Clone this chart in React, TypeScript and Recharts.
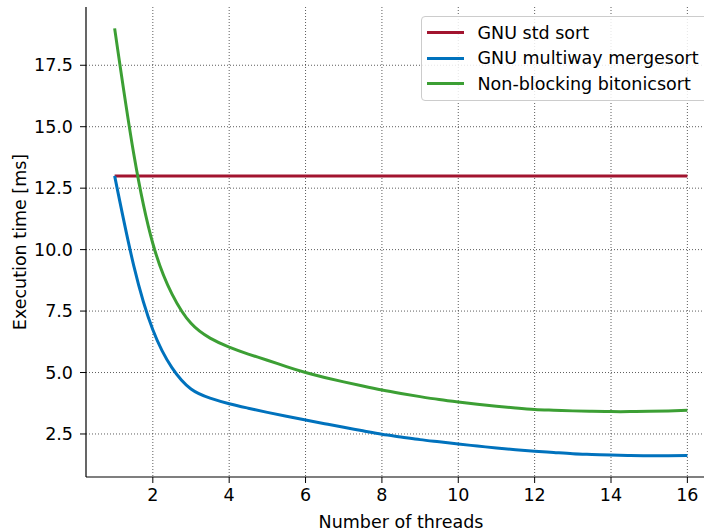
import { LineChart, Line, XAxis, YAxis, CartesianGrid, Label } from "recharts";

// thread counts, read every half step along the curves
const threads = [1, 1.5, 2, 2.5, 3, 3.5, 4, 4.5, 5, 5.5, 6, 6.5, 7, 7.5, 8, 8.5, 9, 9.5, 10, 10.5, 11, 11.5, 12, 12.5, 13, 13.5, 14, 14.5, 15, 15.5, 16];

const stdSort = [13, 13, 13, 13, 13, 13, 13, 13, 13, 13, 13, 13, 13, 13, 13, 13, 13, 13, 13, 13, 13, 13, 13, 13, 13, 13, 13, 13, 13, 13, 13];
const multiwayMergesort = [13.0, 9.35, 6.74, 5.2, 4.33, 3.96, 3.73, 3.55, 3.38, 3.22, 3.07, 2.92, 2.77, 2.63, 2.49, 2.38, 2.27, 2.18, 2.09, 2.01, 1.93, 1.86, 1.8, 1.75, 1.7, 1.67, 1.64, 1.62, 1.61, 1.61, 1.62];
const bitonicSort = [19.0, 13.9, 10.25, 8.2, 7.0, 6.4, 6.03, 5.75, 5.5, 5.24, 5.0, 4.8, 4.62, 4.45, 4.29, 4.15, 4.02, 3.9, 3.8, 3.71, 3.63, 3.56, 3.5, 3.47, 3.44, 3.42, 3.41, 3.41, 3.42, 3.44, 3.47];

const xTicks = [2, 4, 6, 8, 10, 12, 14, 16];
const yTicks = [2.5, 5, 7.5, 10, 12.5, 15, 17.5];

const colors = {
  std: "#A2142F",
  multiway: "#0072BD",
  bitonic: "#3C9F34",
};

const legendItems = [
  { label: "GNU std sort", color: colors.std },
  { label: "GNU multiway mergesort", color: colors.multiway },
  { label: "Non-blocking bitonicsort", color: colors.bitonic },
];

const data = threads.map((t, i) => ({
  threads: t,
  std: stdSort[i],
  multiway: multiwayMergesort[i],
  bitonic: bitonicSort[i],
}));

const font = "'DejaVu Sans', sans-serif";
const tickStyle = { fill: "#000", fontSize: 17.5, fontFamily: font };

export default function App() {
  return (
    <div
      style={{
        position: "absolute",
        left: 0,
        top: 0,
        width: 704,
        height: 531,
        overflow: "hidden",
        background: "#fff",
        fontFamily: font,
      }}
    >
      <LineChart
        width={730}
        height={531}
        data={data}
        margin={{ top: 7, right: 14, bottom: 0, left: 0 }}
      >
        <CartesianGrid
          stroke="#333"
          strokeDasharray="1 2"
          strokeWidth={0.8}
          verticalValues={xTicks}
          horizontalValues={yTicks}
        />
        <XAxis
          type="number"
          dataKey="threads"
          domain={[0.25, 16.75]}
          ticks={xTicks}
          allowDataOverflow
          height={54}
          tickSize={6}
          tickMargin={6}
          tick={tickStyle}
          axisLine={{ stroke: "#000", strokeWidth: 1.2 }}
          tickLine={{ stroke: "#000" }}
        >
          <Label
            value="Number of threads"
            position="insideBottom"
            offset={3}
            style={{ fill: "#000", fontSize: 17.5, fontFamily: font }}
          />
        </XAxis>
        <XAxis
          xAxisId="top"
          orientation="top"
          type="number"
          dataKey="threads"
          domain={[0.25, 16.75]}
          height={0}
          tick={false}
          tickLine={false}
          axisLine={{ stroke: "#000", strokeWidth: 1.2 }}
        />
        <YAxis
          type="number"
          domain={[0.75, 19.87]}
          ticks={yTicks}
          allowDataOverflow
          width={86}
          tickSize={6}
          tickMargin={7}
          tick={tickStyle}
          tickFormatter={(v) => v.toFixed(1)}
          axisLine={{ stroke: "#000", strokeWidth: 1.2 }}
          tickLine={{ stroke: "#000" }}
        >
          <Label
            value="Execution time [ms]"
            angle={-90}
            position="insideLeft"
            offset={20}
            style={{ fill: "#000", fontSize: 17.5, fontFamily: font, textAnchor: "middle" }}
          />
        </YAxis>
        <Line
          type="linear"
          dataKey="std"
          stroke={colors.std}
          strokeWidth={3}
          dot={false}
          isAnimationActive={false}
        />
        <Line
          type="natural"
          dataKey="multiway"
          stroke={colors.multiway}
          strokeWidth={3}
          dot={false}
          isAnimationActive={false}
        />
        <Line
          type="natural"
          dataKey="bitonic"
          stroke={colors.bitonic}
          strokeWidth={3}
          dot={false}
          isAnimationActive={false}
        />
      </LineChart>

      {/* legend box in the upper right corner */}
      <div
        style={{
          position: "absolute",
          left: 421,
          top: 16,
          width: 300,
          height: 80,
          padding: "3px 0 0 5px",
          border: "1px solid #cccccc",
          borderRadius: 4,
          background: "rgba(255,255,255,0.85)",
        }}
      >
        {legendItems.map((item) => (
          <div
            key={item.label}
            style={{ display: "flex", alignItems: "center", height: 25.5 }}
          >
            <div
              style={{
                width: 37,
                height: 3,
                marginRight: 13.5,
                background: item.color,
              }}
            />
            <span style={{ fontSize: 17.5, color: "#000" }}>{item.label}</span>
          </div>
        ))}
      </div>
    </div>
  );
}
